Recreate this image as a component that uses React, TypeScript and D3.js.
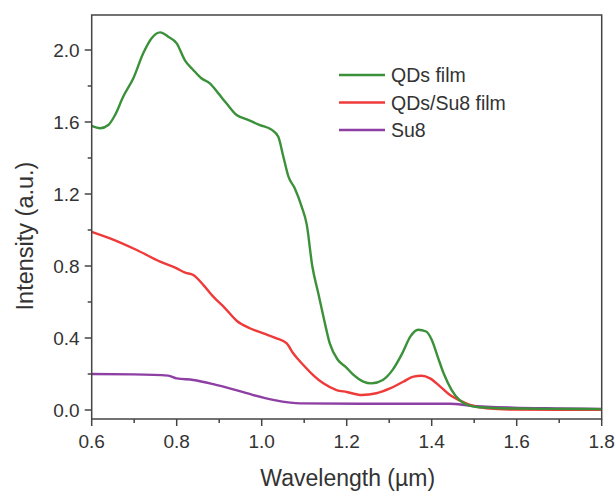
import React from "react";
import * as d3 from "d3";

const qdsX = [0.6,0.62,0.639,0.655,0.674,0.698,0.721,0.741,0.761,0.78,0.8,0.819,0.839,0.858,0.878,0.898,0.917,0.941,0.965,0.996,1.024,1.039,1.051,1.063,1.078,1.094,1.106,1.119,1.133,1.147,1.16,1.179,1.197,1.216,1.239,1.258,1.285,1.308,1.331,1.35,1.368,1.387,1.4,1.414,1.428,1.447,1.465,1.484,1.511,1.6,1.7,1.8];
const qdsY = [1.578,1.565,1.583,1.639,1.74,1.843,1.98,2.065,2.098,2.074,2.037,1.944,1.889,1.843,1.815,1.759,1.704,1.639,1.615,1.583,1.556,1.518,1.407,1.296,1.231,1.13,1.03,0.8,0.65,0.5,0.371,0.279,0.241,0.195,0.158,0.148,0.167,0.223,0.316,0.409,0.446,0.436,0.39,0.297,0.204,0.111,0.056,0.028,0.015,0.008,0.006,0.005];

const su8FilmX = [0.6,0.643,0.706,0.761,0.8,0.82,0.839,0.863,0.886,0.914,0.941,0.972,1.004,1.035,1.059,1.074,1.098,1.121,1.145,1.176,1.2,1.235,1.27,1.302,1.333,1.357,1.376,1.396,1.42,1.443,1.467,1.49,1.529,1.592,1.7,1.8];
const su8FilmY = [0.99,0.954,0.889,0.824,0.787,0.763,0.75,0.694,0.63,0.565,0.496,0.454,0.426,0.398,0.37,0.315,0.25,0.194,0.148,0.111,0.1,0.083,0.093,0.12,0.157,0.185,0.19,0.176,0.13,0.083,0.052,0.028,0.009,0.002,0.001,0.001];

const su8X = [0.6,0.698,0.78,0.8,0.839,0.886,0.933,0.98,1.027,1.067,1.09,1.231,1.443,1.49,1.592,1.7,1.8];
const su8Y = [0.2,0.198,0.191,0.176,0.167,0.144,0.115,0.083,0.056,0.041,0.037,0.035,0.035,0.024,0.013,0.009,0.006];

const seriesNames = ["QDs film", "QDs/Su8 film", "Su8"];
const seriesColors = ["#3b9139", "#ef3a3a", "#8d3fa3"];
const xTicks = [0.6, 0.8, 1.0, 1.2, 1.4, 1.6, 1.8];
const yTicks = [0.0, 0.4, 0.8, 1.2, 1.6, 2.0];
const xMinor = [0.7, 0.9, 1.1, 1.3, 1.5, 1.7];
const yMinor = [0.2, 0.6, 1.0, 1.4, 1.8];

export default function App() {
  const W = 615, H = 492;
  const left = 91.7, right = 601.7, top = 15, bottom = 419;
  const x = d3.scaleLinear().domain([0.6, 1.8]).range([left, right]);
  const y = d3.scaleLinear().domain([0, 2.0]).range([410, 50]);
  const series = [
    qdsX.map((v, i) => [v, qdsY[i]] as [number, number]),
    su8FilmX.map((v, i) => [v, su8FilmY[i]] as [number, number]),
    su8X.map((v, i) => [v, su8Y[i]] as [number, number]),
  ];
  const line = d3.line<[number, number]>().x(d => x(d[0])).y(d => y(d[1])).curve(d3.curveMonotoneX);
  const font = "Liberation Sans, Arial, sans-serif";
  const axisColor = "#444";
  const textColor = "#333";
  return (
    <svg width={W} height={H} style={{ position: "absolute", left: 0, top: 0, background: "#fff" }} fontFamily={font}>
      {[2, 1, 0].map(i => (
        <path key={i} d={line(series[i]) || ""} fill="none" stroke={seriesColors[i]} strokeWidth={2.4} strokeLinejoin="round" />
      ))}
      <rect x={left} y={top} width={right - left} height={bottom - top} fill="none" stroke={axisColor} strokeWidth={1.5} />
      {xTicks.map(t => (
        <g key={"xt" + t}>
          <line x1={x(t)} x2={x(t)} y1={bottom} y2={bottom + 7} stroke={axisColor} strokeWidth={1.5} />
          <text x={x(t)} y={bottom + 29} textAnchor="middle" fontSize={19} fill={textColor}>{t.toFixed(1)}</text>
        </g>
      ))}
      {xMinor.map(t => (
        <line key={"xm" + t} x1={x(t)} x2={x(t)} y1={bottom} y2={bottom + 4} stroke={axisColor} strokeWidth={1.5} />
      ))}
      {yTicks.map(t => (
        <g key={"yt" + t}>
          <line x1={left - 7} x2={left} y1={y(t)} y2={y(t)} stroke={axisColor} strokeWidth={1.5} />
          <text x={left - 12} y={y(t) + 7} textAnchor="end" fontSize={19} fill={textColor}>{t.toFixed(1)}</text>
        </g>
      ))}
      {yMinor.map(t => (
        <line key={"ym" + t} x1={left - 4} x2={left} y1={y(t)} y2={y(t)} stroke={axisColor} strokeWidth={1.5} />
      ))}
      <text x={(left + right) / 2 + 1} y={486} textAnchor="middle" fontSize={23} fill={textColor}>Wavelength (µm)</text>
      <text transform={`translate(33, 236) rotate(-90)`} textAnchor="middle" fontSize={23.5} fill={textColor}>Intensity (a.u.)</text>
      {seriesNames.map((n, i) => (
        <g key={n} transform={`translate(339, ${75 + i * 27.5})`}>
          <line x1={0} x2={46} y1={0} y2={0} stroke={seriesColors[i]} strokeWidth={2.4} />
          <text x={52} y={7} fontSize={19.5} fill={textColor}>{n}</text>
        </g>
      ))}
    </svg>
  );
}
